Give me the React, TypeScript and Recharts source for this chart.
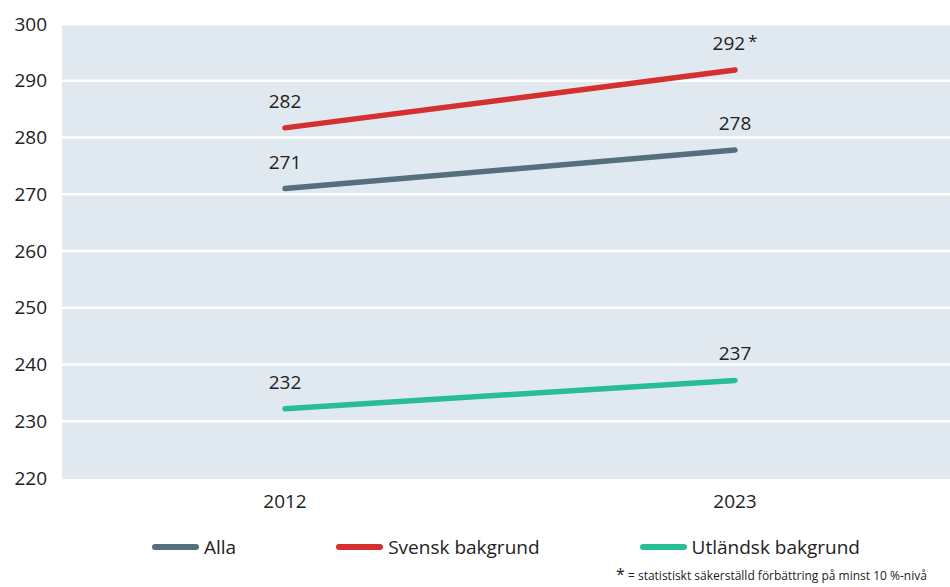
import { LineChart, Line, XAxis, YAxis, CartesianGrid, LabelList } from "recharts"

const years = ["2012", "2023"]
const alla = [271.0, 277.8]
const svensk = [281.7, 291.9]
const utlandsk = [232.2, 237.2]
const svenskSignif = [false, true]
const yTicks = [220, 230, 240, 250, 260, 270, 280, 290, 300]

const FONT = "'Open Sans', sans-serif"
const TEXT = "#222"

const series = [
  { key: "Alla", color: "#566f7c" },
  { key: "Svensk bakgrund", color: "#d4302f" },
  { key: "Utländsk bakgrund", color: "#27bd97" },
]

const data = years.map((year, i) => ({
  year,
  "Alla": alla[i],
  "Svensk bakgrund": svensk[i],
  "Utländsk bakgrund": utlandsk[i],
  sig: svenskSignif[i],
}))

function makeLabel(withSig: boolean) {
  return (props: any) => {
    const { x, y, value, index } = props
    const star = withSig && data[index].sig
    return (
      <text x={x} y={y - 20} textAnchor="middle" fontSize={19} fontFamily={FONT} fill={TEXT}>
        {Math.round(value)}
        {star && <tspan dx={3} dy={-3} fontSize={17}>*</tspan>}
      </text>
    )
  }
}

export default function App() {
  return (
    <div style={{ position: "absolute", left: 0, top: 0, width: 950, height: 587, overflow: "hidden", fontFamily: FONT, background: "#fff" }}>
      <LineChart width={950} height={587} data={data} margin={{ top: 24, right: 0, left: 0, bottom: 79 }}>
        <CartesianGrid vertical={false} fill="#e1e9f0" stroke="#ffffff" strokeWidth={2.5} />
        <XAxis
          dataKey="year"
          height={30}
          padding={{ left: 223, right: 215 }}
          tickLine={false}
          tickSize={0}
          tickMargin={17}
          axisLine={{ stroke: "#e3e9ee", strokeWidth: 2 }}
          tick={{ fontSize: 19, fill: TEXT, fontFamily: FONT }}
        />
        <YAxis
          width={62}
          domain={[220, 300]}
          ticks={yTicks}
          tickLine={false}
          axisLine={false}
          tickSize={0}
          tickMargin={15}
          tick={{ fontSize: 19, fill: TEXT, fontFamily: FONT }}
        />
        {series.map((s) => (
          <Line
            key={s.key}
            dataKey={s.key}
            stroke={s.color}
            strokeWidth={5.5}
            strokeLinecap="round"
            dot={false}
            activeDot={false}
            isAnimationActive={false}
          >
            <LabelList dataKey={s.key} content={makeLabel(s.key === "Svensk bakgrund")} />
          </Line>
        ))}
      </LineChart>
      <div style={{ position: "absolute", left: 62, width: 888, top: 534, display: "flex", justifyContent: "center", gap: 100 }}>
        {series.map((s) => (
          <div key={s.key} style={{ display: "flex", alignItems: "center", fontSize: 19, color: TEXT }}>
            <span style={{ display: "inline-block", width: 47, height: 6, borderRadius: 3, background: s.color, marginRight: 5 }} />
            {s.key}
          </div>
        ))}
      </div>
      <div style={{ position: "absolute", left: 616, top: 566, whiteSpace: "nowrap", fontSize: 12, lineHeight: "16px", color: TEXT }}>
        <span style={{ fontSize: 16 }}>*</span> = statistiskt säkerställd förbättring på minst 10 %-nivå
      </div>
    </div>
  )
}
